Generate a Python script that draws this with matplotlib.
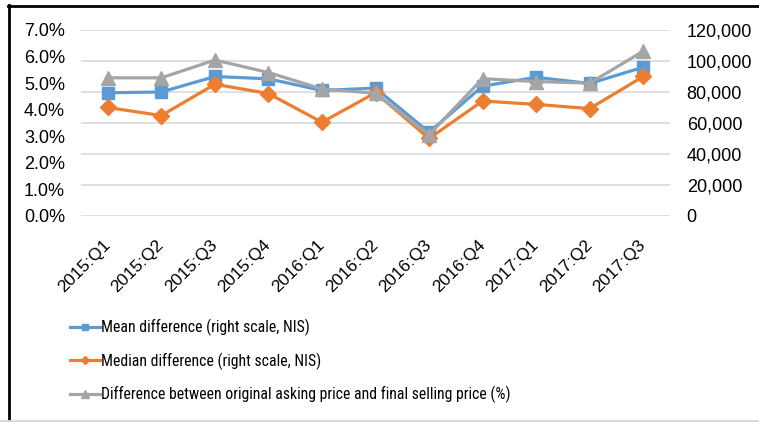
import numpy as np
import matplotlib
matplotlib.use("Agg")
import matplotlib.pyplot as plt
from matplotlib.lines import Line2D
from matplotlib import font_manager

plt.rcParams['font.family'] = ['Liberation Sans', 'DejaVu Sans']

quarters = ['2015:Q1', '2015:Q2', '2015:Q3', '2015:Q4', '2016:Q1', '2016:Q2',
            '2016:Q3', '2016:Q4', '2017:Q1', '2017:Q2', '2017:Q3']
mean_diff = [79500, 80000, 90000, 88500, 81000, 82500, 54000, 83800, 89500, 85500, 96000]
median_diff = [70000, 64800, 85000, 79000, 60500, 79500, 50000, 74200, 72000, 69300, 90000]
pct_diff = [5.2, 5.2, 5.87, 5.4, 4.78, 4.62, 3.06, 5.17, 5.06, 5.0, 6.2]

blue = '#5B9BD5'
orange = '#ED7D31'
grey = '#A5A5A5'

# legend text in the original is a narrow face; use one if there is one
have = {f.name for f in font_manager.fontManager.ttflist}
narrow = [f for f in ['Liberation Sans Narrow', 'Arial Narrow', 'Roboto Condensed',
                      'Archivo Narrow', 'PT Sans Narrow', 'Fira Sans Condensed',
                      'IBM Plex Sans Condensed', 'Sofia Sans Condensed',
                      'Asap Condensed', 'Encode Sans Condensed',
                      'Barlow Semi Condensed'] if f in have]
leg_family = narrow[:1] + ['Liberation Sans', 'DejaVu Sans']

fig = plt.figure(figsize=(7.59, 4.22), dpi=100)
ax2 = fig.add_axes([81/759, 1-216/422, 589/759, 186/422])
ax = ax2.twinx()
# percent axis on the left, NIS on the right
ax.yaxis.tick_left()
ax2.yaxis.tick_right()
ax.set_zorder(ax2.get_zorder() + 1)
ax.patch.set_visible(False)

x = np.arange(len(quarters))
ax2.plot(x, mean_diff, color=blue, lw=2.3, marker='s', ms=8.5, zorder=3)
ax2.plot(x, median_diff, color=orange, lw=2.3, marker='D', ms=8, zorder=4)
ax.plot(x, pct_diff, color=grey, lw=2.3, marker='^', ms=10, zorder=5)

ax2.set_ylim(0, 120000)
ax2.set_yticks(np.arange(0, 120001, 20000))
ax2.set_yticklabels([f'{v:,}' for v in range(0, 120001, 20000)])
ax.set_ylim(0, 7)
ax.set_yticks(np.arange(0, 8))
ax.set_yticklabels([f'{v:.1f}%' for v in range(8)])
ax2.grid(axis='y', color='#D9D9D9', lw=1.2)
ax2.set_axisbelow(True)

ax2.set_xlim(-0.5, len(quarters) - 0.5)
ax2.set_xticks(x)
ax2.set_xticklabels(quarters, rotation=45, ha='right', va='center',
                    rotation_mode='anchor')

for a in (ax, ax2):
    for s in a.spines.values():
        s.set_visible(False)
    a.tick_params(length=0, labelsize=13, colors='#000000')
ax2.tick_params(axis='y', pad=12)
ax.tick_params(axis='y', pad=11.5)
ax2.tick_params(axis='x', pad=19, labelsize=12.5)

handles = [Line2D([], [], color=blue, lw=2.3, marker='s', ms=5),
           Line2D([], [], color=orange, lw=2.3, marker='D', ms=4.5),
           Line2D([], [], color=grey, lw=2.3, marker='^', ms=6)]
labels = ['Mean difference (right scale, NIS)',
          'Median difference (right scale, NIS)',
          'Difference between original asking price and final selling price (%)']


def make_legend(size):
    px = size * 100 / 72
    return fig.legend(handles, labels, loc='center left',
                      bbox_to_anchor=(70/759, 1-361/422), frameon=False,
                      prop={'family': leg_family, 'size': size},
                      handlelength=30/px, handletextpad=0.05,
                      labelspacing=(34 - 1.15*px)/px, borderaxespad=0, borderpad=0)


leg_size = 13.5
leg = make_legend(leg_size)
fig.canvas.draw()
w = leg.get_texts()[2].get_window_extent().width
if w > 366:
    leg.remove()
    # meet halfway between the original width and the original letter height
    leg_size = max(leg_size * 366 / w, 11.3)
    leg = make_legend(leg_size)

# outer frame
fig.add_artist(Line2D([8.5/759, 8.5/759], [1-5/422, 1-420/422], color='black', lw=2,
                      transform=fig.transFigure))
fig.add_artist(Line2D([8/759, 1], [1-5.5/422, 1-5.5/422], color='black', lw=2,
                      transform=fig.transFigure))
fig.add_artist(Line2D([0, 1], [1-420.5/422, 1-420.5/422], color='#D9D9D9', lw=2,
                      transform=fig.transFigure))

fig.savefig('out.png', dpi=100)
